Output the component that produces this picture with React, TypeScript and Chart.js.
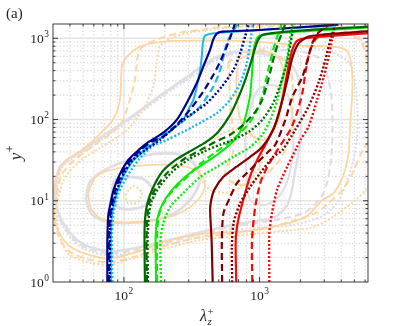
import React, { useEffect, useRef } from "react";
import { Chart, registerables } from "chart.js";

Chart.register(...registerables);

type P = [number, number];

// ---------- axes ----------
const X_RANGE: P = [30, 6300];
const Y_RANGE: P = [1, 1500];
const X_TICK_EXP = [2, 3];
const Y_TICK_EXP = [0, 1, 2, 3];
const PANEL_LABEL = "(a)";

// ---------- coloured spectra (lambda_z+, y+) ----------
const NAVY_SOLID: P[] = [[75.5,1],[75.5,3.27],[76.7,6.66],[79.2,8.9],[83.9,13.6],[94,21.8],[108,32],[128,42],[152,53],[194,68.5],[245,99],[291,161],[345,284],[385,451],[432,725],[455,964],[484,1143],[530,1211],[929,1256],[3818,1476]];
const NAVY_DASH: P[] = [[77.4,1],[77.4,3.27],[78.9,6.66],[81.5,8.9],[86.5,13.6],[96.7,21.8],[111.7,32],[132.4,42],[158.4,53],[195,61.7],[238,82],[307,132],[385,222],[457,356],[513,520],[567,761],[625,1166],[661,1549]];
const NAVY_DOT: P[] = [[78.9,1],[78.9,3.27],[80.1,6.66],[82.9,8.9],[88.8,13.6],[100,21.8],[116.5,32],[142.9,42],[184,56],[274,99],[408,159],[527,255],[643,411],[720,660],[783,1059],[830,1476]];
const CYAN_SOLID: P[] = [[80.1,1],[80.1,3.27],[81.5,6.66],[84.4,8.9],[90.3,13.6],[101.7,21.8],[118.5,32],[142.9,42],[178,56],[226,75],[273,99],[298,132],[325,175],[345,255],[365,411],[375,601],[382,877],[397,1079],[484,1159],[1012,1262],[3626,1435]];
const CYAN_DASH: P[] = [[78.9,1],[78.9,3.27],[80.1,6.66],[82.9,8.9],[88.8,13.6],[99.2,21.8],[114.6,32],[138,42],[172.6,56],[218.6,75],[282,99],[365,145],[457,255],[513,411],[542,601],[574,877],[628,1175],[695,1518]];
const CYAN_DOT: P[] = [[82.2,1],[81.5,3.27],[83.9,7.05],[91.4,12.4],[105.2,19.8],[128.5,32],[161,46.4],[207,56],[325,82],[484,120],[607,175],[720,281],[807,497],[853,877],[879,1280],[898,1518]];

const DKGREEN_SOLID: P[] = [[142.9,1],[141.8,3.27],[142.9,5.8],[147.9,8.9],[161,13.6],[191,22.6],[242,32],[318,42],[404,53],[495,70.4],[607,114],[696,185],[771,284],[853,473],[929,768],[977,964],[1064,1111],[1998,1245],[6350,1394]];
const DKGREEN_DASH: P[] = [[147.9,1],[146.6,3.27],[149.3,6.66],[155.6,10.2],[175.4,15.2],[211.3,22.6],[273,32],[365,42],[471,53],[607,65],[758,86],[929,124.5],[1046,175],[1160,309],[1262,546],[1374,885],[1496,1280],[1548,1518]];
const DKGREEN_DOT: P[] = [[150.3,1],[149.3,3.27],[153,6.66],[161,10.2],[184.4,15.2],[226,22.6],[297,32],[397,41.1],[513,49],[661,57.8],[853,72.6],[1046,99],[1242,152],[1422,268],[1575,473],[1686,836],[1774,1356],[1805,1518]];
const LIME_SOLID: P[] = [[172.6,1],[171,3.27],[175.4,5.8],[191,8.9],[226,13.6],[282,19.6],[365,26.8],[463,34.7],[567,44.8],[673,59.5],[758,86],[811,132],[853,202],[883,411],[906,725],[946,964],[1012,1082],[1998,1211],[6350,1356]];
const LIME_DASH: P[] = [[175.4,1],[175.4,3.27],[179.8,6.29],[196,9.37],[232,13.6],[292,19.6],[365,28.4],[455,37.7],[577,50.1],[720,68.5],[853,93.7],[977,139.6],[1064,214],[1160,411],[1262,725],[1352,1050],[1422,1280],[1444,1518]];
const LIME_DOT: P[] = [[187.5,1],[186,3.27],[195,5.3],[218.6,8.36],[273,12.4],[365,19.6],[484,26.1],[640,34.7],[853,46],[1046,65],[1199,99],[1352,175],[1472,309],[1589,546],[1660,885],[1715,1280],[1745,1518]];

const DKRED_SOLID: P[] = [[451,1],[443,3.27],[432,7.7],[440,10.2],[463,13.6],[539,19.6],[673,26.1],[853,34.7],[1046,46],[1262,75],[1444,152],[1603,309],[1745,578],[1933,861],[2291,1050],[2906,1111],[6350,1227]];
const DKRED_DASH: P[] = [[530,1],[527,3.27],[542,7.05],[607,11.1],[681,16.5],[807,22],[957,29.2],[1135,38.8],[1306,49],[1548,99],[1745,191],[2069,337],[2291,594],[2455,885],[2719,1175],[3330,1518]];
const DKRED_DOT: P[] = [[628,1],[625,2.68],[643,5.3],[720,9.37],[853,14.8],[1012,22],[1262,34.7],[1472,42],[1835,75],[2291,143],[2719,284],[3058,546],[3330,964],[3626,1476]];
const RED_SOLID: P[] = [[673,1],[667,3.27],[696,5.8],[758,10.2],[853,20.2],[962,32],[1121,51.5],[1328,93.7],[1496,202],[1630,448],[1745,725],[1901,935],[2369,1021],[6350,1159]];
const RED_DASH: P[] = [[883,1],[879,3.27],[929,8.36],[1012,16.5],[1140,26.1],[1352,42],[1686,75],[1866,114],[2069,214],[2176,378],[2291,594],[2455,836],[2719,1050],[6350,1175]];
const RED_DOT: P[] = [[1180,1],[1180,3.99],[1235,7.05],[1345,13.6],[1596,26.1],[1888,46],[1998,56],[2291,81],[2656,175],[2971,337],[3238,594],[3428,964],[3626,1476]];

// ---------- background contours ----------
const GRAY_OUTER_SOLID: P[] = [[30.9,15.6],[33.7,26.1],[39.9,33.7],[47.3,39.9],[66.6,59.4],[110.7,105],[184,196],[307,356],[471,578],[661,685],[1012,647],[1548,546],[1901,356],[1998,175],[1998,56],[1835,23.9],[1630,9.4],[1306,6.3],[929,5.6],[607,5.0],[365,4.1],[201,3.2],[120,2.6],[79,2.4],[56,2.7],[43.4,3.5],[34.8,5.8],[31.4,8.9],[30.9,15.6]];
const GRAY_OUTER_DASH: P[] = [[31.4,15.2],[34.2,26.1],[40.6,33.7],[48.1,39.9],[67.6,59.4],[112.6,105],[187.7,196],[313,347],[479,562],[720,685],[1199,725],[1998,685],[2809,546],[3330,233],[3446,75],[3330,27.6],[2906,11.8],[2176,7.25],[1422,5.95],[929,5.3],[607,4.73],[365,3.88],[201,3.0],[120.5,2.46],[78.9,2.26],[56.1,2.53],[43.4,3.27],[34.8,5.46],[32,8.6],[31.4,15.2]];
const GRAY_OUTER_DOT: P[] = [[32,14.8],[34.8,25.3],[41.3,32.7],[48.9,38.8],[68.8,57.8],[114.6,102],[191,191],[318,337],[487,546],[720,666],[1199,768],[1998,791],[3330,685],[4680,473],[5272,132],[5096,42],[4298,15.6],[3626,8.9],[2809,6.29],[1686,5.0],[929,4.6],[607,4.35],[365,3.56],[201,2.84],[120.5,2.33],[78.9,2.14],[56.1,2.39],[43.4,3.09],[34.8,5.15],[32,8.36],[32,14.8]];
const GRAY_EYE: P[] = [[81.5,11.1],[85.8,18],[110.7,19.6],[142.9,18],[169.4,11.8],[135.8,8.36],[91.9,8.13],[81.5,11.1]];
const GRAY_MID: P[] = [[52.4,10.2],[56.1,17],[72.4,23.9],[110.7,32],[169.4,37.7],[259,37],[335,27.6],[365,18],[307,10.2],[218.6,6.66],[131.3,5.46],[78.9,5.46],[58,6.85],[52.4,10.2]];
const GRAY_RIGHT: P[] = [[783,56],[853,132],[977,233],[1242,268],[1603,202],[1774,75],[1686,23.9],[1422,11.8],[1101,8.9],[853,10.2],[797,20.8],[783,56]];

const PEACH_OUTER_SOLID: P[] = [[29.9,10.2],[31.4,18],[36.6,30],[48.9,42],[63.2,61.2],[82.9,99],[93.4,175],[96.6,448],[105.2,594],[131.3,791],[194,911],[346,937],[640,937],[1140,885],[1998,813],[3330,791],[4298,725],[4680,546],[4842,253],[4680,99],[4525,38.8],[4154,20.8],[3506,12.4],[2906,10.2],[2176,6.29],[1630,5.3],[929,4.35],[607,4.11],[365,3.88],[208,3.18],[116.5,2.26],[78.9,1.96],[56.1,2.14],[39.9,2.76],[32.5,4.35],[29.9,7.25],[29.9,10.2]];
const PEACH_OUTER_DASH: P[] = [[32,11.8],[34.8,20.8],[43.4,32],[61.1,49],[82.9,70.4],[96.7,93.7],[110.7,175],[120.5,309],[127,629],[138,791],[175.4,964],[259,1175],[384,1280],[487,1356],[853,1394],[1998,1394],[3948,1280],[5741,836],[6577,175],[6350,56],[5741,42],[4842,22],[4086,13.6],[3220,9.37],[2580,7.05],[1835,5.8],[1199,4.73],[640,3.99],[365,3.56],[208,2.84],[116.5,2.02],[78.9,1.75],[54.2,1.91],[38.6,2.46],[32.5,3.99],[30.9,6.66],[32,11.8]];
const PEACH_OUTER_DOT: P[] = [[32.5,10.2],[36,18],[45.7,29.2],[66.6,44.8],[90.3,61.2],[110.7,81.3],[138,132],[163.8,253],[175.4,546],[184.4,791],[218.6,991],[307,1175],[432,1280],[720,1394],[1422,1476],[2809,1476],[4680,1280],[6808,546],[7540,99],[7164,20.8],[6350,14.8],[5096,10.2],[3446,6.29],[2452,4.73],[1745,4.35],[1199,4.11],[640,3.66],[365,3.27],[208,2.61],[116.5,1.96],[78.9,1.65],[54.2,1.75],[38.6,2.26],[33.7,3.66],[32,6.11],[32.5,10.2]];
const PEACH_EYE: P[] = [[54.2,12.4],[61.1,19.1],[74.9,23.3],[124.7,26.8],[230,27.6],[335,23.9],[397,16.5],[352,10.2],[238,6.66],[131.3,5.46],[72.4,5.8],[58,7.7],[54.2,12.4]];
const PEACH_DIAMOND: P[] = [[101.7,11.8],[116.5,15.2],[135.8,12.8],[127,9.64],[107,9.37],[101.7,11.8]];
const PEACH_MID_SOLID: P[] = [[696,546],[673,268],[708,114],[811,70.4],[1046,56],[1306,79],[1472,175],[1496,411],[1306,629],[977,685],[696,546]];
const PEACH_MID_DASH: P[] = [[587,515],[607,175],[640,42],[558,20.8],[720,15.6],[1101,20.8],[1548,42],[1745,132],[1686,411],[1306,629],[853,685],[587,515]];
const PEACH_MID_DOT: P[] = [[397,42],[365,20.8],[432,13.6],[607,12.8],[853,18],[1046,32],[977,56],[720,75],[513,65],[397,42]];

// ---------- colours ----------
const C_NAVY = "rgb(0,0,140)";
const C_CYAN = "rgb(25,185,235)";
const C_DKGREEN = "rgb(0,105,0)";
const C_LIME = "rgb(10,235,10)";
const C_DKRED = "rgb(130,0,0)";
const C_RED = "rgb(245,10,10)";
const C_PEACH = "rgb(253,214,162)";
const C_GRAY = "rgb(224,221,228)";

const DASH = [7, 4];
const DOT = [2, 2];

function ds(data: P[], color: string, width: number, dash: number[], tension = 0.25) {
  return {
    data: data.map(([x, y]) => ({ x, y })),
    borderColor: color,
    backgroundColor: color,
    borderWidth: width,
    borderDash: dash,
    showLine: true,
    pointRadius: 0,
    pointHoverRadius: 0,
    tension,
    fill: false,
    borderJoinStyle: "round" as const,
  };
}

function sup(ctx: CanvasRenderingContext2D, base: string, exp: string, x: number, y: number, align: "center" | "right", fs: number) {
  ctx.font = `${fs}px 'Liberation Serif', serif`;
  const wb = ctx.measureText(base).width;
  ctx.font = `${fs * 0.7}px 'Liberation Serif', serif`;
  const we = ctx.measureText(exp).width;
  const total = wb + we + 0.5;
  const x0 = align === "center" ? x - total / 2 : x - total;
  ctx.textAlign = "left";
  ctx.textBaseline = "alphabetic";
  ctx.font = `${fs}px 'Liberation Serif', serif`;
  ctx.fillText(base, x0, y);
  ctx.font = `${fs * 0.7}px 'Liberation Serif', serif`;
  ctx.fillText(exp, x0 + wb + 0.5, y - fs * 0.42);
}

const gridPlugin = {
  id: "mgrid",
  beforeDatasetsDraw(chart: any) {
    const { ctx, chartArea: a, scales } = chart;
    ctx.save();
    ctx.beginPath();
    ctx.rect(a.left, a.top, a.right - a.left, a.bottom - a.top);
    ctx.clip();
    const draw = (scale: any, range: P, vertical: boolean) => {
      for (let e = Math.floor(Math.log10(range[0])); e <= Math.ceil(Math.log10(range[1])); e++) {
        for (let m = 1; m <= 9; m++) {
          const v = m * Math.pow(10, e);
          if (v <= range[0] || v >= range[1]) continue;
          const p = scale.getPixelForValue(v);
          ctx.beginPath();
          if (m === 1) {
            ctx.setLineDash([]);
            ctx.strokeStyle = "rgb(228,228,228)";
            ctx.lineWidth = 1.4;
          } else {
            ctx.setLineDash([1.2, 2.2]);
            ctx.strokeStyle = "rgb(195,195,195)";
            ctx.lineWidth = 0.8;
          }
          if (vertical) {
            ctx.moveTo(p, a.top);
            ctx.lineTo(p, a.bottom);
          } else {
            ctx.moveTo(a.left, p);
            ctx.lineTo(a.right, p);
          }
          ctx.stroke();
        }
      }
    };
    draw(scales.x, X_RANGE, true);
    draw(scales.y, Y_RANGE, false);
    ctx.restore();
  },
};

const framePlugin = {
  id: "mframe",
  afterDraw(chart: any) {
    const { ctx, chartArea: a, scales } = chart;
    ctx.save();
    ctx.setLineDash([]);
    ctx.strokeStyle = "rgb(40,40,40)";
    ctx.lineWidth = 0.9;
    ctx.strokeRect(a.left, a.top, a.right - a.left, a.bottom - a.top);
    // tick marks
    const ticks = (scale: any, range: P, vertical: boolean) => {
      for (let e = Math.floor(Math.log10(range[0])); e <= Math.ceil(Math.log10(range[1])); e++) {
        for (let m = 1; m <= 9; m++) {
          const v = m * Math.pow(10, e);
          if (v <= range[0] || v >= range[1]) continue;
          const p = scale.getPixelForValue(v);
          const len = m === 1 ? 5 : 2.5;
          ctx.beginPath();
          if (vertical) {
            ctx.moveTo(p, a.bottom);
            ctx.lineTo(p, a.bottom - len);
            ctx.moveTo(p, a.top);
            ctx.lineTo(p, a.top + len);
          } else {
            ctx.moveTo(a.left, p);
            ctx.lineTo(a.left + len, p);
            ctx.moveTo(a.right, p);
            ctx.lineTo(a.right - len, p);
          }
          ctx.stroke();
        }
      }
    };
    ticks(scales.x, X_RANGE, true);
    ticks(scales.y, Y_RANGE, false);

    ctx.fillStyle = "rgb(30,30,30)";
    for (const e of X_TICK_EXP) {
      const px = scales.x.getPixelForValue(Math.pow(10, e));
      sup(ctx, "10", String(e), px, a.bottom + 17.5, "center", 13.5);
    }
    for (const e of Y_TICK_EXP) {
      const py = scales.y.getPixelForValue(Math.pow(10, e));
      sup(ctx, "10", String(e), a.left - 4, py + 4.5, "right", 13.5);
    }
    // x title  lambda_z^+
    const cx = (a.left + a.right) / 2 - 3;
    ctx.textAlign = "left";
    ctx.font = "italic 16px 'Liberation Serif', serif";
    const wl = ctx.measureText("λ").width;
    const lx = cx - (wl + 8) / 2;
    ctx.fillText("λ", lx, 321);
    ctx.font = "italic 11px 'Liberation Serif', serif";
    ctx.fillText("z", lx + wl + 0.5, 325);
    ctx.font = "11px 'Liberation Serif', serif";
    ctx.fillText("+", lx + wl + 0.5, 315);
    // y title  y^+
    ctx.save();
    ctx.translate(21, (a.top + a.bottom) / 2);
    ctx.rotate(-Math.PI / 2);
    ctx.font = "italic 17px 'Liberation Serif', serif";
    const wy = ctx.measureText("y").width;
    const yx = -(wy + 7) / 2;
    ctx.fillText("y", yx, 0);
    ctx.font = "12px 'Liberation Serif', serif";
    ctx.fillText("+", yx + wy + 0.5, -7);
    ctx.restore();
    // panel label
    ctx.font = "15px 'Liberation Serif', serif";
    ctx.fillText(PANEL_LABEL, 6, 18);
    ctx.restore();
  },
};

export default function App() {
  const ref = useRef<HTMLCanvasElement | null>(null);
  useEffect(() => {
    document.body.style.margin = "0";
    const canvas = ref.current;
    if (!canvas) return;
    const layers = [
      ds(GRAY_OUTER_DOT, C_GRAY, 2.2, DOT, 0.3),
      ds(GRAY_OUTER_DASH, C_GRAY, 2.2, DASH, 0.3),
      ds(GRAY_OUTER_SOLID, C_GRAY, 2.4, [], 0.3),
      ds(GRAY_MID, C_GRAY, 2.8, [], 0.3),
      ds(GRAY_EYE, C_GRAY, 3, [], 0.3),
      ds(GRAY_RIGHT, C_GRAY, 2, [], 0.3),
      ds(PEACH_OUTER_DOT, C_PEACH, 2, DOT, 0.3),
      ds(PEACH_OUTER_DASH, C_PEACH, 2, DASH, 0.3),
      ds(PEACH_OUTER_SOLID, C_PEACH, 1.8, [], 0.3),
      ds(PEACH_EYE, C_PEACH, 1.6, [], 0.3),
      ds(PEACH_DIAMOND, C_PEACH, 2, DOT, 0.2),
      ds(PEACH_MID_SOLID, C_PEACH, 1.8, [], 0.3),
      ds(PEACH_MID_DASH, C_PEACH, 2, DASH, 0.3),
      ds(PEACH_MID_DOT, C_PEACH, 2, DOT, 0.3),
      ds(CYAN_SOLID, C_CYAN, 2, []),
      ds(CYAN_DASH, C_CYAN, 2.2, DASH),
      ds(CYAN_DOT, C_CYAN, 2.4, DOT),
      ds(NAVY_DOT, C_NAVY, 2.4, DOT),
      ds(NAVY_DASH, C_NAVY, 2.2, DASH),
      ds(NAVY_SOLID, C_NAVY, 2.2, []),
      ds(LIME_SOLID, C_LIME, 2, []),
      ds(LIME_DASH, C_LIME, 2.2, DASH),
      ds(LIME_DOT, C_LIME, 2.4, DOT),
      ds(DKGREEN_DOT, C_DKGREEN, 2.4, DOT),
      ds(DKGREEN_DASH, C_DKGREEN, 2.2, DASH),
      ds(DKGREEN_SOLID, C_DKGREEN, 2.2, []),
      ds(RED_SOLID, C_RED, 2.2, []),
      ds(RED_DASH, C_RED, 2.2, DASH),
      ds(RED_DOT, C_RED, 2.4, DOT),
      ds(DKRED_DOT, C_DKRED, 2.4, DOT),
      ds(DKRED_DASH, C_DKRED, 2.2, DASH),
      ds(DKRED_SOLID, C_DKRED, 2.2, []),
    ];
    const datasets = layers.map((d, i) => ({ ...d, order: layers.length - i }));
    const chart = new Chart(canvas, {
      type: "scatter",
      data: { datasets } as any,
      options: {
        animation: false,
        responsive: false,
        devicePixelRatio: 1,
        events: [],
        layout: { padding: { left: 0, right: 39, top: 24, bottom: 0 } },
        plugins: { legend: { display: false }, tooltip: { enabled: false } },
        scales: {
          x: {
            type: "logarithmic",
            min: X_RANGE[0],
            max: X_RANGE[1],
            grid: { display: false },
            border: { display: false },
            ticks: { display: false },
            afterFit: (s: any) => {
              s.height = 44;
            },
          },
          y: {
            type: "logarithmic",
            min: Y_RANGE[0],
            max: Y_RANGE[1],
            grid: { display: false },
            border: { display: false },
            ticks: { display: false },
            afterFit: (s: any) => {
              s.width = 53;
            },
          },
        },
      } as any,
      plugins: [gridPlugin, framePlugin],
    });
    return () => chart.destroy();
  }, []);
  return (
    <canvas
      ref={ref}
      width={407}
      height={326}
      style={{ display: "block", width: "407px", height: "326px", background: "#fff" }}
    />
  );
}
